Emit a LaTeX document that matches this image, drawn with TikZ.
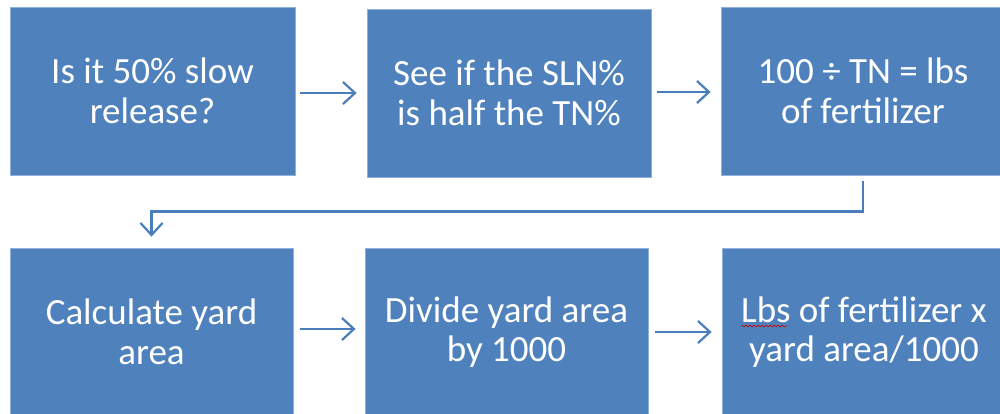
\documentclass[tikz,border=0pt]{standalone}
\usepackage{fontspec}
\setmainfont{Carlito}
\usetikzlibrary{arrows.meta,calc,decorations.pathmorphing}
\definecolor{boxblue}{HTML}{4F81BD}
\definecolor{edgeblue}{HTML}{8EB0DA}
\definecolor{arrblue}{HTML}{4A7EBB}
\tikzset{
  stepbox/.style={rectangle, fill=boxblue, draw=edgeblue, line width=0.8pt,
    minimum width=284pt, minimum height=168pt, inner sep=0pt,
    text=white, align=center, font=\fontsize{37}{39.5}\selectfont},
  arr/.style={draw=arrblue, line width=2.2pt,
    -{Straight Barb[length=12pt,width=22pt,line width=2.2pt]}},
}
\begin{document}
\begin{tikzpicture}[x=1pt,y=-1pt]
\useasboundingbox (0,0) rectangle (1000,413);
\clip (0,0) rectangle (1000,413);
\node[stepbox, minimum width=285pt] (b1) at (152.5,91) {Is it 50\% slow\\release?};
\node[stepbox] (b2) at (509,93) {See if the SLN\%\\is half the TN\%};
\node[stepbox] (b3) at (863,91) {100 ÷ TN = lbs\\of fertilizer};
\node[stepbox, minimum width=283pt] (b4) at (151.5,332) {Calculate yard\\area};
\node[stepbox, minimum width=283pt] (b5) at (506.5,332) {Divide yard area\\by 1000};
\node[stepbox] (b6) at (864,332) {Lbs of fertilizer x\\yard area/1000};
\draw[arr] ([xshift=5pt,yshift=-2pt]b1.east) -- ([xshift=-10pt,yshift=-2pt]b1.east -| b2.west);
\draw[arr] ([xshift=6pt,yshift=1pt]b2.east) -- ([xshift=-10pt,yshift=1pt]b2.east -| b3.west);
\draw[arr] ([xshift=7pt,yshift=3pt]b4.east) -- ([xshift=-9pt,yshift=3pt]b4.east -| b5.west);
\draw[arr] ([xshift=7pt]b5.east) -- ([xshift=-10pt]b5.east -| b6.west);
\coordinate (elb) at ($(b3.south)+(0,36)$);
\draw[arr] ([yshift=-6pt]b3.south) -- (elb) -- (elb -| b4.north) -- ([yshift=11pt]b4.north);
\draw[red!80!black, line width=0.6pt, decorate, decoration={snake,amplitude=0.8pt,segment length=4pt}]
  ($(b6.center)+(-123,-6)$) -- ($(b6.center)+(-77,-6)$);
\end{tikzpicture}
\end{document}
